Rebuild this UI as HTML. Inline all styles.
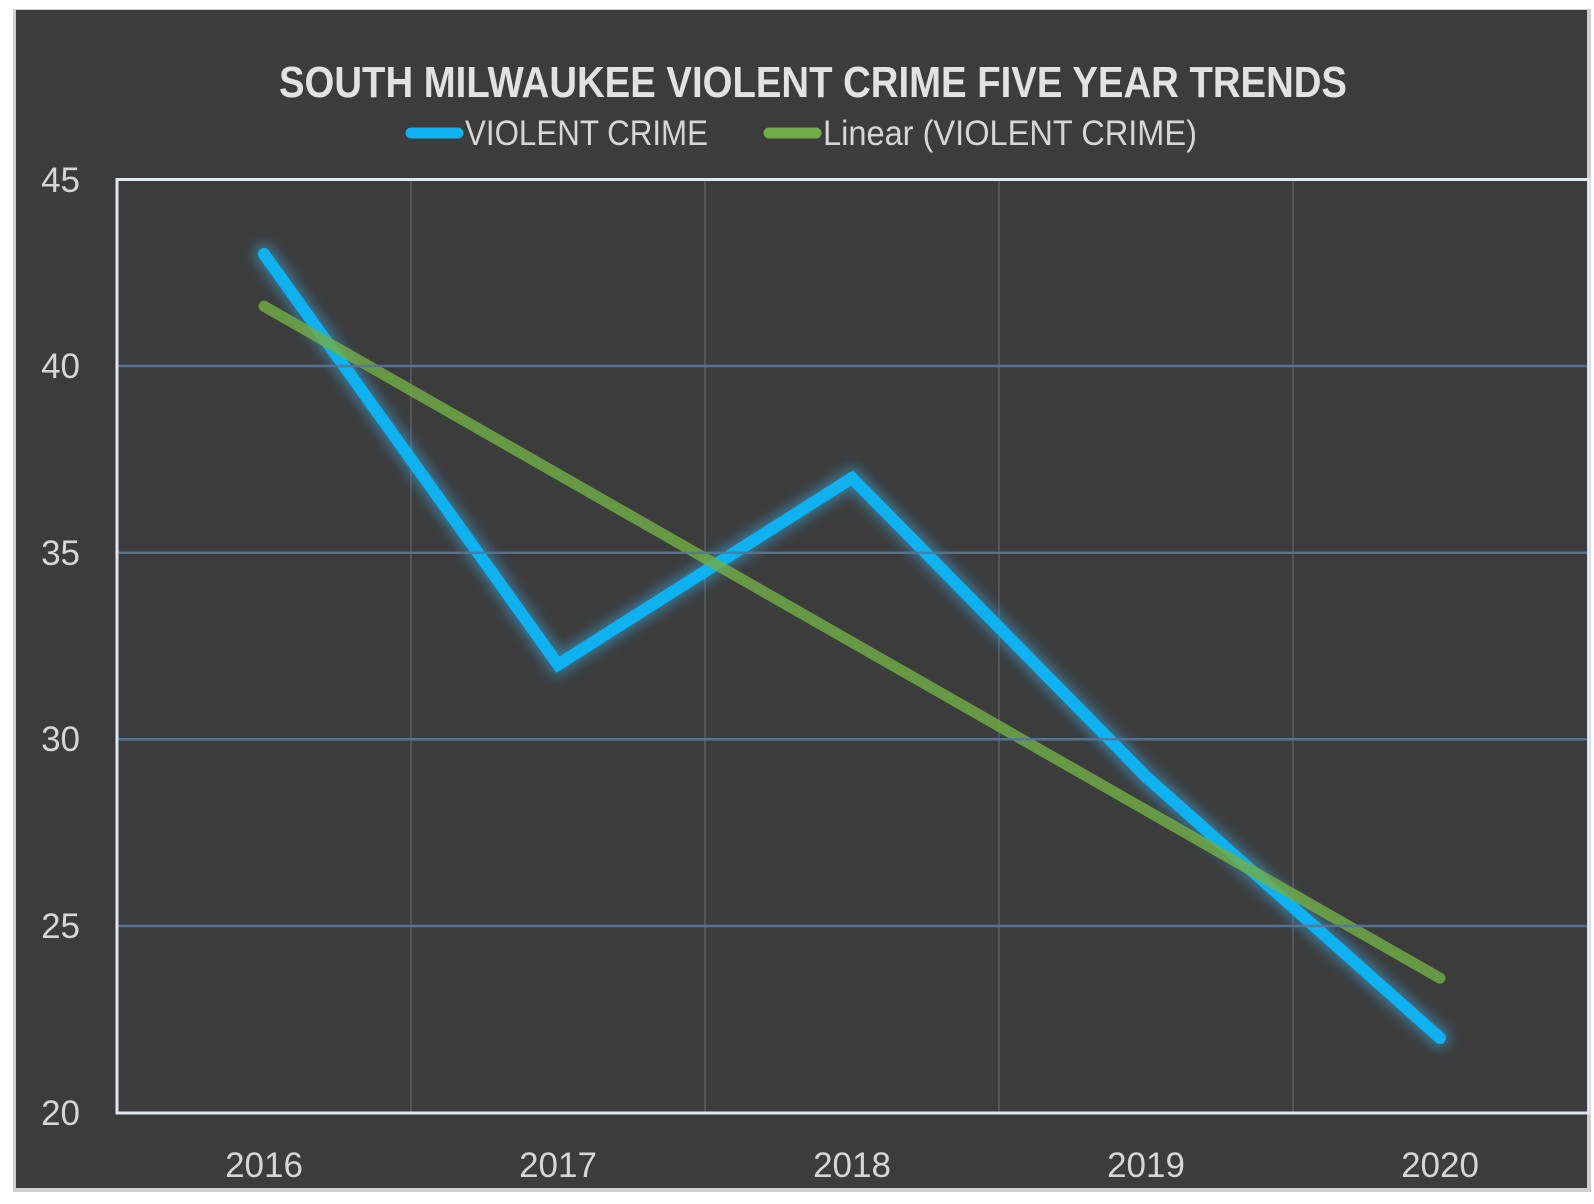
<!DOCTYPE html>
<html>
<head>
<meta charset="utf-8">
<style>
html,body{margin:0;padding:0;background:#ffffff;}
svg{display:block;}
</style>
</head>
<body>
<svg width="1594" height="1204" viewBox="0 0 1594 1204" xmlns="http://www.w3.org/2000/svg">
  <defs>
    <filter id="glow" x="-20%" y="-20%" width="140%" height="140%">
      <feGaussianBlur stdDeviation="6"/>
    </filter>
  </defs>
  <rect x="0" y="0" width="1594" height="1204" fill="#ffffff"/>
  <!-- outer frame -->
  <rect x="13" y="9" width="1578" height="1183" fill="#cfcfcf"/>
  <rect x="16" y="10" width="1571" height="1178" fill="#3c3c3c"/>

  <!-- vertical gridlines -->
  <g stroke="#555555" stroke-width="2">
    <line x1="411" y1="180" x2="411" y2="1112"/>
    <line x1="705" y1="180" x2="705" y2="1112"/>
    <line x1="999" y1="180" x2="999" y2="1112"/>
    <line x1="1293" y1="180" x2="1293" y2="1112"/>
  </g>

  <!-- series: blue glow -->
  <polyline points="264,254 558,664.6 852,478 1146,776.6 1440,1038" fill="none" stroke="#3aa8e0" stroke-opacity="0.55" stroke-width="20" stroke-linejoin="miter" stroke-linecap="round" filter="url(#glow)"/>
  <polyline points="264,254 558,664.6 852,478 1146,776.6 1440,1038" fill="none" stroke="#0fb2f0" stroke-width="12" stroke-linejoin="miter" stroke-miterlimit="10" stroke-linecap="round"/>

  <!-- trendline -->
  <line x1="264" y1="306.2" x2="1440" y2="978.2" stroke="#70ad47" stroke-opacity="0.82" stroke-width="11" stroke-linecap="round"/>

  <!-- horizontal gridlines (on top) -->
  <g stroke="#55779a" stroke-width="2.5" stroke-opacity="0.9">
    <line x1="118" y1="366" x2="1587" y2="366"/>
    <line x1="118" y1="552.7" x2="1587" y2="552.7"/>
    <line x1="118" y1="739.3" x2="1587" y2="739.3"/>
    <line x1="118" y1="926" x2="1587" y2="926"/>
  </g>

  <!-- plot border -->
  <rect x="117" y="179.5" width="1472" height="933.5" fill="none" stroke="#dfe7f0" stroke-width="3"/>

  <!-- title -->
  <text x="813" y="97" text-anchor="middle" font-family="Liberation Sans, sans-serif" font-weight="bold" font-size="44" fill="#e2e2e2" textLength="1068" lengthAdjust="spacingAndGlyphs">SOUTH MILWAUKEE VIOLENT CRIME FIVE YEAR TRENDS</text>

  <!-- legend -->
  <line x1="411" y1="133" x2="458" y2="133" stroke="#0fb2f0" stroke-width="11" stroke-linecap="round"/>
  <text x="465" y="145" font-family="Liberation Sans, sans-serif" font-size="35" fill="#d6d6d6" textLength="243" lengthAdjust="spacingAndGlyphs">VIOLENT CRIME</text>
  <line x1="769" y1="133" x2="816" y2="133" stroke="#70ad47" stroke-width="11" stroke-linecap="round"/>
  <text x="823" y="145" font-family="Liberation Sans, sans-serif" font-size="35" fill="#d6d6d6" textLength="374" lengthAdjust="spacingAndGlyphs">Linear (VIOLENT CRIME)</text>

  <!-- y labels -->
  <g font-family="Liberation Sans, sans-serif" font-size="35" fill="#d6d6d6" text-anchor="end">
    <text x="80" y="192">45</text>
    <text x="80" y="378">40</text>
    <text x="80" y="565">35</text>
    <text x="80" y="751">30</text>
    <text x="80" y="938">25</text>
    <text x="80" y="1125">20</text>
  </g>

  <!-- x labels -->
  <g font-family="Liberation Sans, sans-serif" font-size="35" fill="#d6d6d6" text-anchor="middle">
    <text x="264" y="1177">2016</text>
    <text x="558" y="1177">2017</text>
    <text x="852" y="1177">2018</text>
    <text x="1146" y="1177">2019</text>
    <text x="1440" y="1177">2020</text>
  </g>
</svg>
</body>
</html>
